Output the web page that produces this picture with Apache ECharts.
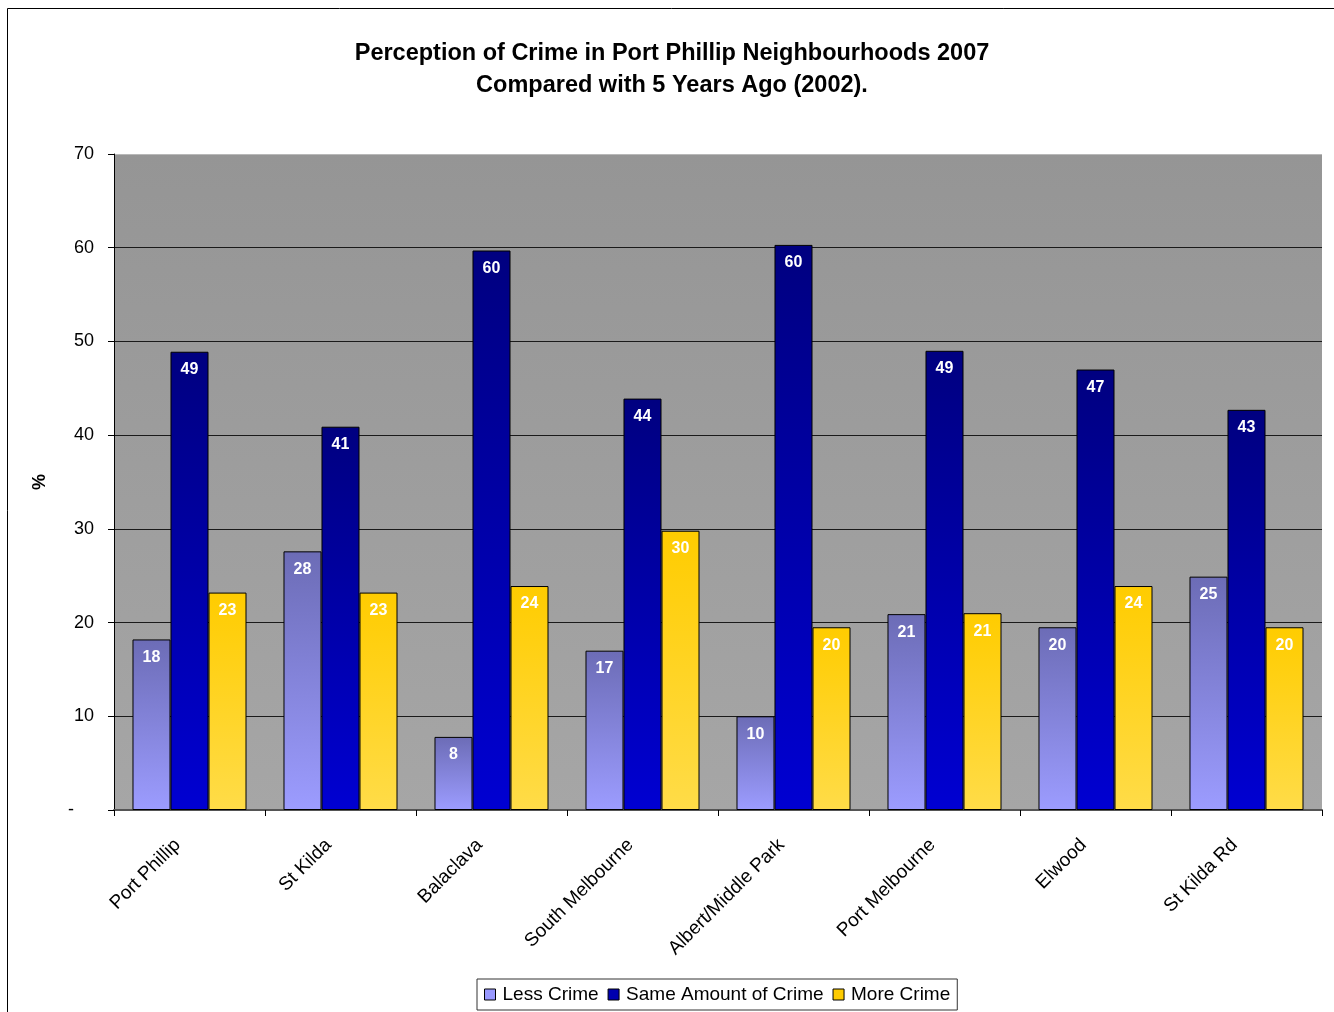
<!DOCTYPE html>
<html>
<head>
<meta charset="utf-8">
<script src="https://cdn.jsdelivr.net/npm/echarts@6/dist/echarts.min.js"></script>
<style>
  html, body { margin: 0; padding: 0; background: #fff; }
  #chart { width: 1334px; height: 1012px; }
</style>
</head>
<body>
<div id="chart"></div>
<script>
// Neighbourhoods surveyed
const categories = ['Port Phillip', 'St Kilda', 'Balaclava', 'South Melbourne',
  'Albert/Middle Park', 'Port Melbourne', 'Elwood', 'St Kilda Rd'];

// Percentage of respondents per answer
const lessCrime = [18.2, 27.6, 7.8, 17.0, 10.0, 20.9, 19.5, 24.9];
const sameCrime = [48.9, 40.9, 59.7, 43.9, 60.3, 49.0, 47.0, 42.7];
const moreCrime = [23.2, 23.2, 23.9, 29.8, 19.5, 21.0, 23.9, 19.5];

const seriesNames = ['Less Crime', 'Same Amount of Crime', 'More Crime'];
const yTicks = [0, 10, 20, 30, 40, 50, 60, 70];

const FONT = 'Liberation Sans, Arial, sans-serif';

function vgrad(top, bottom) {
  return new echarts.graphic.LinearGradient(0, 0, 0, 1, [
    { offset: 0, color: top }, { offset: 1, color: bottom }
  ]);
}

const fills = [
  vgrad('#6c6cb6', '#9c9cff'),
  vgrad('#000080', '#0000d2'),
  vgrad('#ffcc00', '#ffdc48')
];
const legendSwatch = ['#9999ff', '#0000b0', '#ffcc00'];

const barLabel = {
  show: true,
  position: 'insideTop',
  distance: 10,
  color: '#ffffff',
  fontFamily: FONT,
  fontWeight: 'bold',
  fontSize: 16,
  formatter: p => Math.round(p.value)
};

const seriesData = [lessCrime, sameCrime, moreCrime];

const chart = echarts.init(document.getElementById('chart'), null, { renderer: 'canvas' });

chart.setOption({
  animation: false,
  backgroundColor: '#ffffff',
  graphic: [{
    type: 'rect',
    shape: { x: 7.5, y: 8.5, width: 1340, height: 1020 },
    style: { fill: 'none', stroke: '#000', lineWidth: 1 },
    silent: true
  }],
  title: {
    text: 'Perception of Crime in Port Phillip Neighbourhoods 2007\nCompared with 5 Years Ago (2002).',
    left: 667,
    textAlign: 'center',
    top: 33,
    textStyle: {
      fontFamily: FONT, fontWeight: 'bold', fontSize: 23.5, color: '#000', lineHeight: 32
    }
  },
  legend: {
    bottom: 2,
    left: 477,
    itemWidth: 11,
    itemHeight: 11,
    itemGap: 9,
    padding: [6, 7, 6, 7],
    borderColor: '#333',
    borderWidth: 1,
    icon: 'rect',
    textStyle: { fontFamily: FONT, fontSize: 19, color: '#000', padding: [0, 0, 0, 2] },
    data: seriesNames.map((n, i) => ({
      name: n,
      itemStyle: { color: legendSwatch[i], borderColor: '#000', borderWidth: 1 }
    }))
  },
  grid: {
    left: 114, right: 12, top: 154, bottom: 202,
    show: true,
    backgroundColor: vgrad('#959595', '#a6a6a6'),
    borderWidth: 0
  },
  xAxis: {
    type: 'category',
    data: categories,
    boundaryGap: true,
    axisLine: { show: true, lineStyle: { color: '#555', width: 2 } },
    axisTick: { show: true, alignWithLabel: false, length: 6, lineStyle: { color: '#000' } },
    axisLabel: {
      rotate: 45, margin: 20, padding: [0, 17, 0, 0],
      fontFamily: FONT, fontSize: 19, color: '#000', interval: 0
    },
    splitLine: { show: false }
  },
  yAxis: {
    type: 'value',
    min: 0, max: 70, interval: 10,
    name: '%',
    nameLocation: 'middle',
    nameGap: 65,
    nameRotate: 90,
    nameTextStyle: { fontFamily: FONT, fontWeight: 'bold', fontSize: 18, color: '#000' },
    axisLine: { show: true, lineStyle: { color: '#000', width: 1 } },
    axisTick: { show: true, length: 6, inside: false, lineStyle: { color: '#000' } },
    axisLabel: {
      margin: 20, fontFamily: FONT, fontSize: 18, color: '#000',
      formatter: v => (yTicks.includes(v) && v === 0 ? '-    ' : String(v))
    },
    splitLine: {
      show: true,
      lineStyle: { color: ['#000', '#1a1a1a', '#1a1a1a', '#1a1a1a', '#1a1a1a', '#1a1a1a', '#1a1a1a', '#b8b8b8'], width: 1 }
    }
  },
  series: seriesNames.map((name, i) => ({
    name,
    type: 'bar',
    data: seriesData[i],
    barGap: '0%',
    barCategoryGap: '24.5%',
    itemStyle: { color: fills[i], borderColor: '#000', borderWidth: 1 },
    label: barLabel
  }))
});
</script>
</body>
</html>
